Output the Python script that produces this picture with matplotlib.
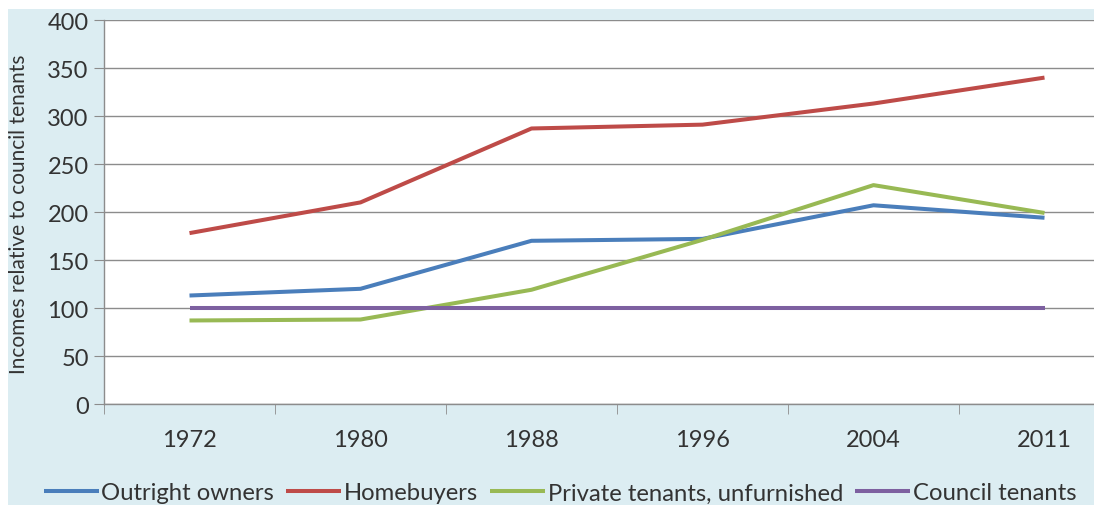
import matplotlib
matplotlib.use("Agg")
import matplotlib.pyplot as plt
from matplotlib.patches import Rectangle
from matplotlib.ticker import FixedLocator

plt.rcParams['font.family'] = ['Lato', 'DejaVu Sans']

years = ["1972", "1980", "1988", "1996", "2004", "2011"]
outright_owners = [113, 120, 170, 172, 207, 194]
homebuyers = [178, 210, 287, 291, 313, 340]
private_tenants = [87, 88, 119, 171, 228, 199]
council_tenants = [100, 100, 100, 100, 100, 100]

series = [
    ("Outright owners", outright_owners, "#4a7ebb"),
    ("Homebuyers", homebuyers, "#be4b48"),
    ("Private tenants, unfurnished", private_tenants, "#98b954"),
    ("Council tenants", council_tenants, "#7d60a0"),
]

W, H = 1094, 506
fig = plt.figure(figsize=(W / 100, H / 100), dpi=100, facecolor="white")

# light blue chart area behind everything
fig.patches.append(Rectangle((8 / W, 0), 1, 1 - 10 / H, transform=fig.transFigure,
                             facecolor="#dcedf2", edgecolor="none", zorder=-5))

# plot area: left edge at x=104px, 6 category slots of ~171px each
left_px, top_px, bottom_px = 104, 21, 405
slot = 171
ax = fig.add_axes([left_px / W, 1 - bottom_px / H, 6 * slot / W, (bottom_px - top_px) / H])
ax.set_facecolor("white")
ax.set_zorder(1)

x = list(range(len(years)))
for name, vals, color in series:
    ax.plot(x, vals, color=color, lw=2.9, label=name, solid_capstyle="butt", zorder=3)

ax.set_xlim(-0.5, 5.5)
ax.set_ylim(0, 400)
ax.set_yticks(range(0, 401, 50))
ax.yaxis.grid(True, color="#8c8c8c", lw=1.0)
ax.set_axisbelow(True)

ax.set_xticks(x)
ax.set_xticklabels(years)
ax.xaxis.set_minor_locator(FixedLocator([i - 0.5 for i in range(7)]))
ax.tick_params(axis="x", which="major", length=0, pad=18, labelsize=17)
ax.tick_params(axis="x", which="minor", length=7, color="#8c8c8c", direction="out")
ax.tick_params(axis="y", length=7, color="#8c8c8c", labelsize=17, pad=4)
for lbl in ax.get_xticklabels() + ax.get_yticklabels():
    lbl.set_color("#333333")

for side in ("top", "right"):
    ax.spines[side].set_visible(False)
for side in ("left", "bottom"):
    ax.spines[side].set_color("#8c8c8c")
    ax.spines[side].set_linewidth(1.0)

fig.text(19 / W, 1 - 214 / H, "Incomes relative to council tenants", rotation=90,
         ha="center", va="center", fontsize=15, color="#333333")

handles, labels = ax.get_legend_handles_labels()
leg = fig.legend(handles, labels, loc="center", ncol=4,
                 bbox_to_anchor=(560 / W, 1 - 494 / H), frameon=False,
                 fontsize=17.2, handlelength=2.3, handletextpad=0.12, columnspacing=0.5,
                 labelcolor="#333333", borderpad=0.2)

fig.savefig("out.png", dpi=100, facecolor="white")
